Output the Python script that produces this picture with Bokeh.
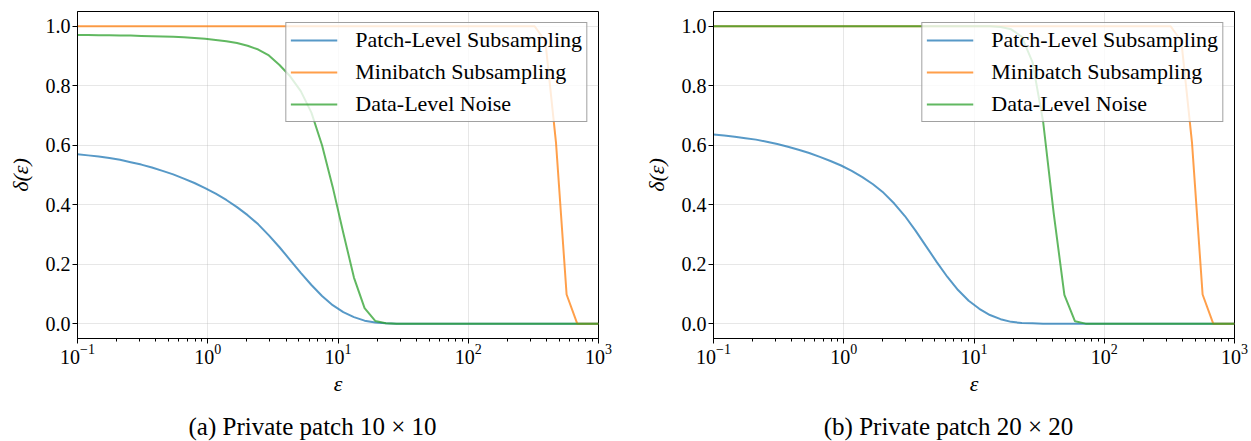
from bokeh.plotting import figure
from bokeh.layouts import row, column
from bokeh.models import (FixedTicker, PrintfTickFormatter, LogTickFormatter,
                          Legend, LegendItem, Label, Range1d)
from bokeh.embed import file_html
from bokeh.resources import INLINE

# privacy budget grid (50 log-spaced points from 1e-1 to 1e3)
eps = [0.1, 0.1207, 0.1456, 0.1758, 0.2121, 0.2560, 0.3089, 0.3728, 0.4498, 0.5429,
       0.6551, 0.7906, 0.9541, 1.1514, 1.3895, 1.6768, 2.0236, 2.4421, 2.9471, 3.5565,
       4.2919, 5.1795, 6.2506, 7.5431, 9.1030, 10.985, 13.257, 15.999, 19.307, 23.300,
       28.118, 33.932, 40.949, 49.417, 59.636, 71.969, 86.851, 104.81, 126.49, 152.64,
       184.21, 222.30, 268.27, 323.75, 390.70, 471.49, 568.99, 686.65, 828.64, 1000.0]

# (a) private patch 10 x 10
patch_10 = [0.570, 0.566, 0.562, 0.557, 0.551, 0.543, 0.535, 0.525, 0.514, 0.502,
            0.488, 0.473, 0.456, 0.437, 0.416, 0.392, 0.365, 0.334, 0.297, 0.257,
            0.214, 0.171, 0.130, 0.093, 0.062, 0.039, 0.022, 0.010, 0.004, 0.001,
            0.0, 0.0, 0.0, 0.0, 0.0, 0.0, 0.0, 0.0, 0.0, 0.0,
            0.0, 0.0, 0.0, 0.0, 0.0, 0.0, 0.0, 0.0, 0.0, 0.0]
minibatch_10 = [1.0] * 44 + [0.95, 0.61, 0.098, 0.0, 0.0, 0.0]
noise_10 = [0.971, 0.971, 0.970, 0.970, 0.969, 0.969, 0.968, 0.967, 0.966, 0.965,
            0.963, 0.961, 0.958, 0.954, 0.950, 0.944, 0.935, 0.922, 0.902, 0.870,
            0.832, 0.782, 0.710, 0.600, 0.460, 0.305, 0.155, 0.052, 0.009, 0.001,
            0.0, 0.0, 0.0, 0.0, 0.0, 0.0, 0.0, 0.0, 0.0, 0.0,
            0.0, 0.0, 0.0, 0.0, 0.0, 0.0, 0.0, 0.0, 0.0, 0.0]

# (b) private patch 20 x 20
patch_20 = [0.636, 0.633, 0.629, 0.624, 0.619, 0.612, 0.604, 0.595, 0.585, 0.574,
            0.561, 0.547, 0.532, 0.514, 0.493, 0.469, 0.440, 0.404, 0.362, 0.313,
            0.260, 0.207, 0.157, 0.113, 0.077, 0.050, 0.029, 0.015, 0.006, 0.002,
            0.001, 0.0, 0.0, 0.0, 0.0, 0.0, 0.0, 0.0, 0.0, 0.0,
            0.0, 0.0, 0.0, 0.0, 0.0, 0.0, 0.0, 0.0, 0.0, 0.0]
minibatch_20 = [1.0] * 44 + [0.95, 0.61, 0.098, 0.0, 0.0, 0.0]
noise_20 = [1.0] * 27 + [0.998, 0.990, 0.965, 0.880, 0.680, 0.370, 0.097, 0.008] + [0.0] * 15

series_names = ["Patch-Level Subsampling", "Minibatch Subsampling", "Data-Level Noise"]
series_colors = ["#1f77b4", "#ff7f0e", "#2ca02c"]
captions = ["(a) Private patch 10 × 10", "(b) Private patch 20 × 20"]

x_major = [0.1, 1, 10, 100, 1000]
x_minor = [m * d for d in (0.1, 1, 10, 100) for m in range(2, 10)]
y_major = [0.0, 0.2, 0.4, 0.6, 0.8, 1.0]

FONT = "Liberation Serif"
PLOT_H = 406      # height of each chart; the caption strip fills the rest
CAPTION_H = 35


def make_panel(patch, minibatch, noise, width, border_left, border_right):
    p = figure(width=width, height=PLOT_H, x_axis_type="log",
               x_range=Range1d(0.1, 1000), y_range=Range1d(-0.05, 1.05),
               output_backend="svg", toolbar_location=None,
               min_border_left=border_left, min_border_right=border_right,
               min_border_top=11, min_border_bottom=PLOT_H - 338)
    p.outline_line_color = "black"
    p.outline_line_width = 1
    p.background_fill_color = "white"
    p.border_fill_color = "white"

    renderers = []
    for ys, color in zip((patch, minibatch, noise), series_colors):
        r = p.line(eps, ys, line_color=color, line_width=2, line_alpha=0.75)
        renderers.append(r)

    # axes
    p.xaxis.ticker = FixedTicker(ticks=x_major, minor_ticks=x_minor)
    p.xaxis.formatter = LogTickFormatter()
    p.yaxis.ticker = FixedTicker(ticks=y_major)
    p.yaxis.formatter = PrintfTickFormatter(format="%.1f")
    for ax in (p.xaxis, p.yaxis):
        ax.axis_line_color = "black"
        ax.major_tick_line_color = "black"
        ax.major_tick_in = 0
        ax.major_tick_out = 5
        ax.minor_tick_in = 0
        ax.minor_tick_out = 3
        ax.major_label_text_font = FONT
        ax.major_label_text_font_size = "20px"
        ax.major_label_text_color = "black"
        ax.axis_label_text_font = FONT
        ax.axis_label_text_font_size = "22px"
        ax.axis_label_text_font_style = "italic"
        ax.axis_label_text_color = "black"
    p.xaxis.minor_tick_line_color = "black"
    p.yaxis.minor_tick_line_color = None
    p.xaxis.major_label_standoff = 0
    p.yaxis.major_label_standoff = 2
    p.xaxis.axis_label = "ε"
    p.yaxis.axis_label = "δ(ε)"
    p.xaxis.axis_label_standoff = 4
    p.yaxis.axis_label_standoff = 10

    # grid
    p.xgrid.ticker = FixedTicker(ticks=x_major)
    p.ygrid.ticker = FixedTicker(ticks=y_major)
    for g in (p.xgrid, p.ygrid):
        g.grid_line_color = "#b0b0b0"
        g.grid_line_alpha = 0.3
        g.grid_line_width = 1

    legend = Legend(
        items=[LegendItem(label=n, renderers=[r]) for n, r in zip(series_names, renderers)],
        location="top_right",
        margin=11, padding=4, spacing=6,
        glyph_width=47, glyph_height=22, label_height=22, label_standoff=18,
        label_text_font=FONT, label_text_font_size="22px", label_text_color="black",
        border_line_color="#444444", border_line_width=1,
        background_fill_color="white", background_fill_alpha=0.8,
    )
    p.add_layout(legend)
    return p


def make_caption(text, width, center_x):
    c = figure(width=width, height=CAPTION_H, title=None,
               x_range=Range1d(0, 1), y_range=Range1d(0, 1),
               x_axis_location=None, y_axis_location=None,
               output_backend="svg", toolbar_location=None,
               min_border_left=0, min_border_right=0,
               min_border_top=0, min_border_bottom=0)
    c.outline_line_color = None
    c.xgrid.visible = False
    c.ygrid.visible = False
    # caption text hangs from the top of the strip
    c.add_layout(Label(x=center_x, y=CAPTION_H - 6, x_units="screen", y_units="screen",
                       text=text, text_align="center", text_baseline="top",
                       text_font=FONT, text_font_size="25px", text_color="black"))
    return c


p1 = make_panel(patch_10, minibatch_10, noise_10, 625, 77, 27)
p2 = make_panel(patch_20, minibatch_20, noise_20, 626, 88, 17)
c1 = make_caption(captions[0], 625, 312)
c2 = make_caption(captions[1], 626, 323)

layout = column(row(p1, p2), row(c1, c2))
open("out.html", "w").write(file_html(layout, INLINE))
